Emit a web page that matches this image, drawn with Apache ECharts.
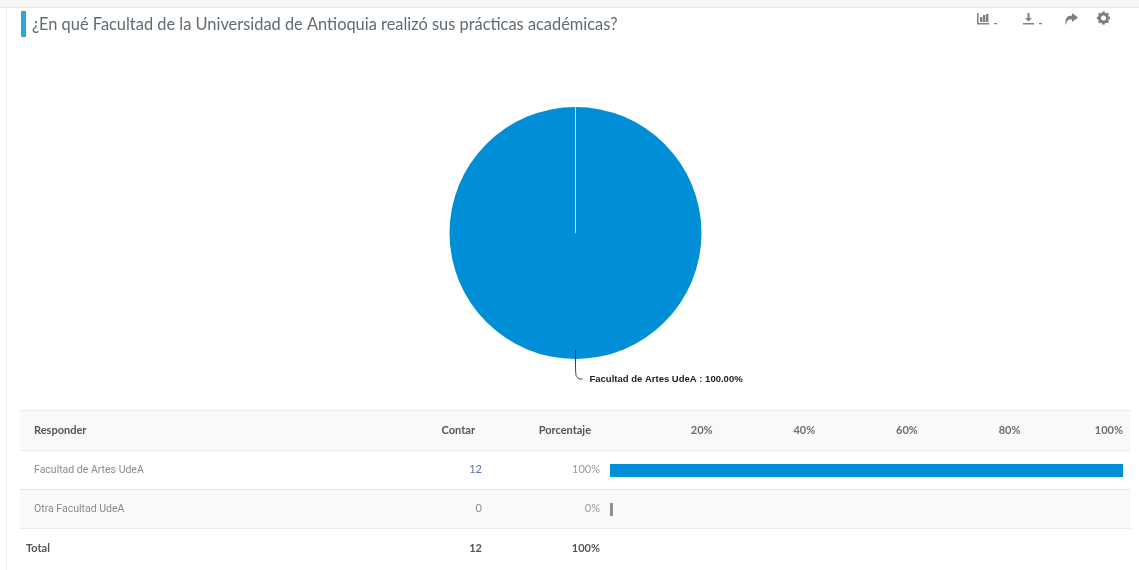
<!DOCTYPE html>
<html><head><meta charset="utf-8">
<style>html,body{margin:0;padding:0;background:#fff}#c{width:1139px;height:570px}</style>
<script src="https://cdn.jsdelivr.net/npm/echarts@6/dist/echarts.min.js"></script>
</head><body><div id="c"></div>
<script>
const titleText = '¿En qué Facultad de la Universidad de Antioquia realizó sus prácticas académicas?';
const answers = ['Facultad de Artes UdeA', 'Otra Facultad UdeA'];
const counts = [12, 0];
const percents = [100, 0];
const totalCount = 12;
const totalPercent = 100;
const headers = ['Responder', 'Contar', 'Porcentaje'];
const FONT = 'Lato, "Noto Sans", sans-serif';
const ROWFONT = 'Roboto, Lato, sans-serif';
const BLUE = '#008ed6';

const chart = echarts.init(document.getElementById('c'), null, {renderer: 'canvas'});

function txt(x, y, text, color, size, weight, align, family) {
  return {type: 'text', x, y, z: 5, silent: true, style: {text, fill: color, font: (weight || 'normal') + ' ' + size + 'px ' + (family || FONT), align: align || 'left', verticalAlign: 'middle'}};
}
function rect(x, y, w, h, fill) {
  return {type: 'rect', z: -1, silent: true, shape: {x, y, width: w, height: h}, style: {fill}};
}
const ICON = '#808080';
const icons = [
  // bar-chart menu
  {type: 'rect', shape: {x: 977, y: 13, width: 1.5, height: 11}, style: {fill: ICON}},
  {type: 'rect', shape: {x: 977, y: 23, width: 12, height: 1.5}, style: {fill: ICON}},
  {type: 'rect', shape: {x: 980, y: 17, width: 2.4, height: 5}, style: {fill: ICON}},
  {type: 'rect', shape: {x: 983, y: 15, width: 2.4, height: 7}, style: {fill: ICON}},
  {type: 'rect', shape: {x: 986, y: 14, width: 2.4, height: 8}, style: {fill: ICON}},
  {type: 'rect', shape: {x: 994, y: 23, width: 3, height: 1.2}, style: {fill: ICON}},
  // download menu
  {type: 'polygon', shape: {points: [[1027.5,13],[1029.5,13],[1029.5,18],[1032,18],[1028.5,21.5],[1025,18],[1027.5,18]]}, style: {fill: ICON}},
  {type: 'rect', shape: {x: 1023, y: 23, width: 11, height: 1.5}, style: {fill: ICON}},
  {type: 'rect', shape: {x: 1039, y: 23, width: 3, height: 1.2}, style: {fill: ICON}},
  // share arrow
  {type: 'polygon', shape: {points: [[1072,13],[1078,17.5],[1072,22],[1072,19.5],[1069,19.5],[1067,21],[1066,24.5],[1065.5,24.5],[1065.5,20],[1067.5,16.5],[1072,15.5]]}, style: {fill: '#7d7d7d'}},
  // gear
  {type: 'circle', shape: {cx: 1103.5, cy: 18, r: 5.5}, style: {fill: ICON}},
  ...[0, 45, 90, 135].map(a => ({type: 'rect', originX: 1103.5, originY: 18, rotation: a * Math.PI / 180, shape: {x: 1102.2, y: 11.4, width: 2.6, height: 13.2}, style: {fill: ICON}})),
  {type: 'circle', shape: {cx: 1103.5, cy: 18, r: 2.5}, style: {fill: '#fff'}, z2: 2}
].map(o => ({...o, silent: true, z: 5}));

const rowY = [469.5, 508.5];
const graphics = [
  rect(0, 0, 1139, 7, '#f6f6f6'),
  rect(0, 7, 1139, 1, '#e9e9e9'),
  rect(6, 8, 1, 562, '#f0f0f0'),
  rect(20, 410, 1110.5, 40, '#f9f9f9'),
  rect(20, 489, 1110.5, 39, '#f9f9f9'),
  rect(20, 410, 1110.5, 1, '#ececec'),
  rect(20, 450, 1110.5, 1, '#ececec'),
  rect(20, 489, 1110.5, 1, '#e4e4e4'),
  rect(20, 528, 1110.5, 1, '#ececec'),
  rect(21, 11, 5, 26, '#2ba6de'),
  txt(32, 25, titleText, '#5f6b73', 16.4),
  txt(34, 430, headers[0], '#555', 11, 'bold'),
  txt(475, 430, headers[1], '#555', 11, 'bold', 'right'),
  txt(591, 430, headers[2], '#555', 11, 'bold', 'right'),
  txt(26, 548, 'Total', '#555', 11, 'bold'),
  txt(482, 548, String(totalCount), '#555', 11, 'bold', 'right'),
  txt(600, 548, totalPercent + '%', '#555', 11, 'bold', 'right'),
  ...icons
];
answers.forEach((a, i) => {
  graphics.push(txt(34, rowY[i] + 0.5, a, '#8b8b8b', 10.5, 'normal', 'left', ROWFONT));
  graphics.push(txt(482, rowY[i], String(counts[i]), counts[i] ? '#5f6fa8' : '#8b8b8b', 11, 'normal', 'right'));
  graphics.push(txt(600, rowY[i], percents[i] + '%', '#9a9a9a', 11, 'normal', 'right'));
});

chart.setOption({
  animation: false,
  graphic: {elements: graphics},
  grid: {left: 610, width: 513, top: 451, height: 78, containLabel: false},
  xAxis: {
    type: 'value', position: 'top', min: 0, max: 100, interval: 20,
    axisLine: {show: false}, axisTick: {show: false}, splitLine: {show: false},
    axisLabel: {
      show: true, margin: 15, fontFamily: FONT, fontSize: 11, fontWeight: 'bold', color: '#6e6e6e',
      align: 'right', formatter: v => v === 0 ? '' : v + '%'
    }
  },
  yAxis: {
    type: 'category', inverse: true, data: answers,
    axisLine: {show: false}, axisTick: {show: false}, axisLabel: {show: false}, splitLine: {show: false}
  },
  series: [
    {
      type: 'pie', center: [575.5, 233], radius: [0, 126], startAngle: 90, silent: true, stillShowZeroSum: true, z: 2,
      label: {show: false}, labelLine: {show: false},
      data: answers.map((name, i) => ({
        name, value: counts[i],
        itemStyle: i === 0 ? {color: BLUE} : {color: BLUE, borderColor: '#bfe3f5', borderWidth: 1},
        label: {show: false}, labelLine: {show: false}
      }))
    },
    {
      type: 'pie', center: [575.5, 233], radius: [0, 117], startAngle: 90, silent: true, z: 3,
      avoidLabelOverlap: false,
      itemStyle: {color: 'rgba(0,0,0,0)'},
      label: {
        show: true, position: 'outer', alignTo: 'none', distanceToLabelLine: 7,
        fontFamily: '"Liberation Sans", Arial, sans-serif', fontSize: 9.5, fontWeight: 'bold', color: '#222',
        formatter: p => p.name + ' : ' + (p.value / totalCount * 100).toFixed(2) + '%'
      },
      labelLine: {show: true, length: 29, length2: 7, smooth: 0.5, lineStyle: {color: '#333', width: 1}},
      data: answers.map((name, i) => ({name, value: counts[i], itemStyle: {color: 'rgba(0,0,0,0)', borderWidth: 0}, label: {show: i === 0}, labelLine: {show: i === 0}}))
    },
    {
      type: 'bar', barWidth: 13, barMinHeight: 3, silent: true,
      data: percents.map((v, i) => ({value: v, itemStyle: {color: i === 0 ? BLUE : '#8f8f8f'}}))
    }
  ]
});
</script></body></html>
